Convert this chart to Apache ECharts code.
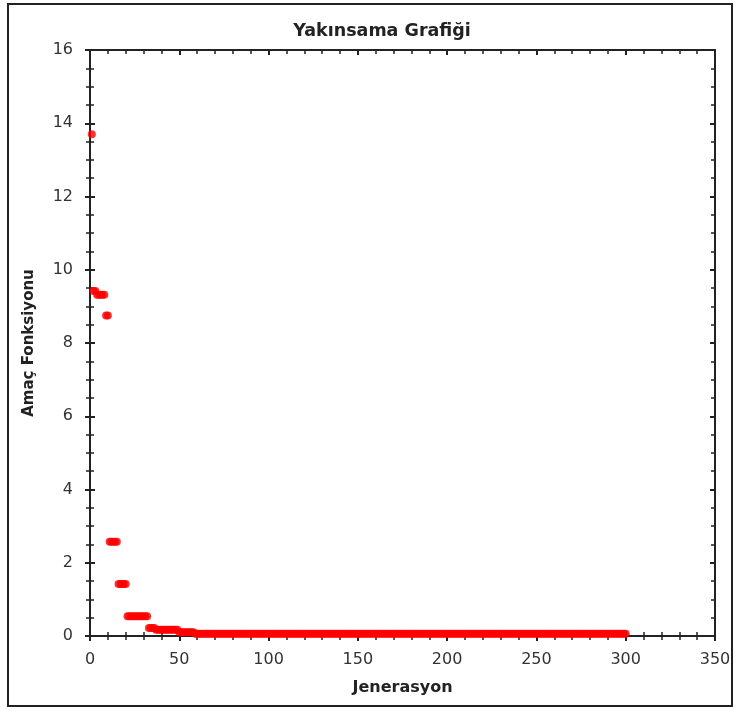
<!DOCTYPE html>
<html>
<head>
<meta charset="utf-8">
<script src="https://cdn.jsdelivr.net/npm/echarts@6/dist/echarts.min.js"></script>
<style>
  html, body { margin: 0; padding: 0; background: #fff; }
  #frame { position: absolute; left: 7px; top: 3px; width: 722px; height: 700px; border: 2px solid #222; }
  #chart { width: 737px; height: 707px; position: absolute; left: 0; top: 0; }
</style>
</head>
<body>
<div id="frame"></div>
<div id="chart"></div>
<script>
// best value per generation (first gen, last gen, value)
const runStart = [1, 2, 4, 9, 11, 16, 21, 33, 37, 50, 59];
const runEnd   = [1, 3, 8, 10, 15, 20, 32, 36, 49, 58, 300];
const runValue = [13.7, 9.42, 9.32, 8.75, 2.57, 1.42, 0.54, 0.22, 0.17, 0.1, 0.06];

const titleText = 'Yakınsama Grafiği';
const xName = 'Jenerasyon';
const yName = 'Amaç Fonksiyonu';

const points = [];
for (let i = 0; i < runStart.length; i++) {
    for (let g = runStart[i]; g <= runEnd[i]; g++) {
        points.push([g, runValue[i]]);
    }
}

const chart = echarts.init(document.getElementById('chart'));
const font = 'DejaVu Sans, Verdana, sans-serif';
const lineStyle = {color: '#222', width: 2};

function xAx(pos, show, inside, labels) {
    return {
        type: 'value', min: 0, max: 350, interval: 50, position: pos,
        name: labels ? xName : '', nameLocation: 'middle', nameGap: 44,
        nameTextStyle: {fontFamily: font, fontWeight: 'bold', fontSize: 16, color: '#222'},
        axisLine: {show: show, onZero: false, lineStyle: lineStyle},
        axisTick: {show: true, inside: inside, length: 5, lineStyle: {color: '#222', width: 2}},
        minorTick: {show: true, splitNumber: 5, length: 4, lineStyle: {color: '#222', width: 1.5}},
        axisLabel: {show: labels, margin: 16, fontFamily: font, fontSize: 16, color: '#333'},
        splitLine: {show: false}
    };
}
function yAx(pos, show, inside, labels) {
    return {
        type: 'value', min: 0, max: 16, interval: 2, position: pos,
        name: labels ? yName : '', nameLocation: 'middle', nameGap: 53,
        nameTextStyle: {fontFamily: font, fontWeight: 'bold', fontSize: 15, color: '#222'},
        axisLine: {show: show, onZero: false, lineStyle: lineStyle},
        axisTick: {show: true, inside: inside, length: 5, lineStyle: {color: '#222', width: 2}},
        minorTick: {show: true, splitNumber: 4, length: 4, lineStyle: {color: '#222', width: 1.5}},
        axisLabel: {show: labels, margin: 17, fontFamily: font, fontSize: 16, color: '#333'},
        splitLine: {show: false}
    };
}

chart.setOption({
    animation: false,
    title: {
        text: titleText, left: 377, top: 17, textAlign: 'center',
        textStyle: {fontFamily: font, fontWeight: 'bold', fontSize: 17.5, color: '#222'}
    },
    grid: {left: 90, top: 50, right: 22, bottom: 71, containLabel: false},
    xAxis: [
        xAx('bottom', true, false, true),
        xAx('bottom', false, true, false),
        xAx('top', true, true, false)
    ],
    yAxis: [
        yAx('left', true, false, true),
        yAx('left', false, true, false),
        yAx('right', true, true, false)
    ],
    series: [{
        type: 'scatter',
        data: points,
        symbol: 'circle',
        symbolSize: 8,
        itemStyle: {color: '#ff0000'},
        clip: false
    }]
});
</script>
</body>
</html>
